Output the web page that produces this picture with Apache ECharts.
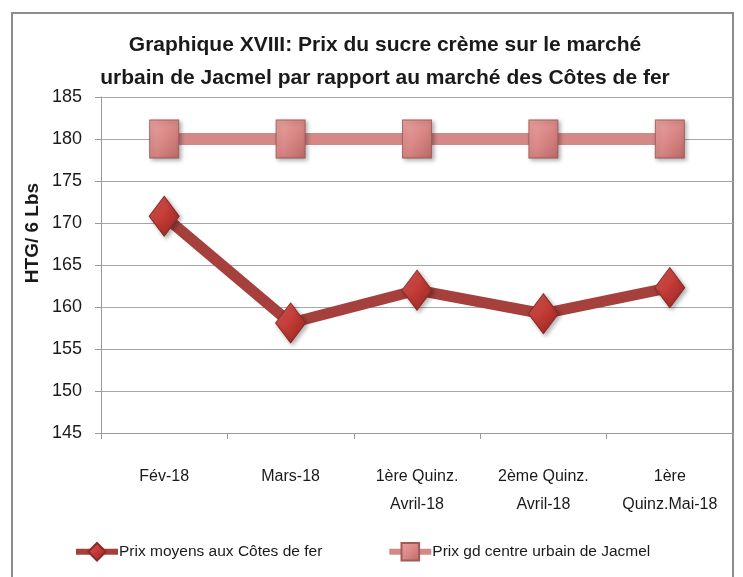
<!DOCTYPE html>
<html>
<head>
<meta charset="utf-8">
<script src="https://cdn.jsdelivr.net/npm/echarts@6/dist/echarts.min.js"></script>
<style>
  html, body { margin: 0; padding: 0; background: #ffffff; }
  #chart { width: 743px; height: 577px; }
</style>
</head>
<body>
<div id="chart"></div>
<script>
// data
const categories = ['Fév-18', 'Mars-18', '1ère Quinz.\nAvril-18', '2ème Quinz.\nAvril-18', '1ère\nQuinz.Mai-18']
const coteDeFer = [170.8, 158.1, 162.0, 159.2, 162.3]
const jacmel = [180, 180, 180, 180, 180]
const seriesNames = ['Prix moyens aux Côtes de fer', 'Prix gd centre urbain de Jacmel']
const yAxisTitle = 'HTG/ 6 Lbs'

const FONT = '"Liberation Sans", Arial, sans-serif'

const chart = echarts.init(document.getElementById('chart'))

const diamondFill = {
  type: 'linear', x: 0, y: 0, x2: 1, y2: 1,
  colorStops: [
    { offset: 0, color: '#e0605a' },
    { offset: 0.5, color: '#c23a35' },
    { offset: 1, color: '#8e2522' }
  ]
}
const squareFill = {
  type: 'linear', x: 0, y: 0, x2: 1, y2: 1,
  colorStops: [
    { offset: 0, color: '#eba3a1' },
    { offset: 0.5, color: '#d98886' },
    { offset: 1, color: '#b86866' }
  ]
}

const option = {
  backgroundColor: '#ffffff',
  animation: false,
  graphic: [
    {
      type: 'rect',
      shape: { x: 12, y: 13, width: 721, height: 580 },
      style: { fill: 'none', stroke: '#8c8c8c', lineWidth: 2 },
      silent: true
    },
    // rotated axis title, sits a bit above the plot middle like the original
    {
      type: 'text',
      x: 33,
      y: 233,
      rotation: Math.PI / 2,
      style: {
        text: yAxisTitle,
        fontFamily: FONT,
        fontSize: 19,
        fontWeight: 'bold',
        fill: '#1a1a1a',
        align: 'center',
        verticalAlign: 'middle'
      },
      silent: true
    }
  ],
  title: {
    text: 'Graphique XVIII: Prix du sucre crème sur le marché\nurbain de Jacmel par rapport au marché des Côtes de fer',
    left: 380,
    top: 24,
    textAlign: 'center',
    textStyle: {
      fontFamily: FONT,
      fontSize: 21,
      fontWeight: 'bold',
      color: '#1a1a1a',
      lineHeight: 33
    }
  },
  legend: {
    data: seriesNames,
    left: 68,
    top: 537,
    itemWidth: 42,
    itemHeight: 22,
    itemGap: 64,
    lineStyle: { width: 6 },
    textStyle: { fontFamily: FONT, fontSize: 15.5, color: '#1a1a1a', padding: [0, 0, 0, -4] }
  },
  grid: {
    left: 101,
    right: 10,
    top: 97,
    bottom: 144
  },
  xAxis: {
    type: 'category',
    data: categories,
    boundaryGap: true,
    axisLine: { lineStyle: { color: '#9a9a9a', width: 1 } },
    axisTick: { show: true, length: 6, lineStyle: { color: '#9a9a9a' } },
    axisLabel: {
      interval: 0,
      margin: 30,
      fontFamily: FONT,
      fontSize: 16,
      lineHeight: 28,
      color: '#1a1a1a'
    },
    splitLine: { show: false }
  },
  yAxis: {
    type: 'value',
    min: 145,
    max: 185,
    interval: 5,
    axisLine: { show: true, lineStyle: { color: '#9a9a9a', width: 1 } },
    axisTick: { show: true, length: 6, lineStyle: { color: '#9a9a9a' } },
    axisLabel: {
      margin: 19,
      fontFamily: FONT,
      fontSize: 18,
      color: '#1a1a1a'
    },
    splitLine: { lineStyle: { color: '#a6a6a6', width: 1 } }
  },
  series: [
    {
      name: seriesNames[0],
      type: 'line',
      data: coteDeFer,
      z: 3,
      lineStyle: { color: '#a5403d', width: 11 },
      symbol: 'diamond',
      symbolSize: [30, 40],
      itemStyle: {
        color: diamondFill,
        borderColor: '#8a2a27',
        borderWidth: 1,
        shadowBlur: 4,
        shadowOffsetX: 2,
        shadowOffsetY: 2,
        shadowColor: 'rgba(0,0,0,0.3)'
      }
    },
    {
      name: seriesNames[1],
      type: 'line',
      data: jacmel,
      z: 2,
      lineStyle: { color: '#d48987', width: 12 },
      symbol: 'rect',
      symbolSize: [29, 38],
      itemStyle: {
        color: squareFill,
        borderColor: '#a05a58',
        borderWidth: 1,
        shadowBlur: 4,
        shadowOffsetX: 2,
        shadowOffsetY: 2,
        shadowColor: 'rgba(0,0,0,0.3)'
      }
    }
  ]
}

chart.setOption(option)
</script>
</body>
</html>
